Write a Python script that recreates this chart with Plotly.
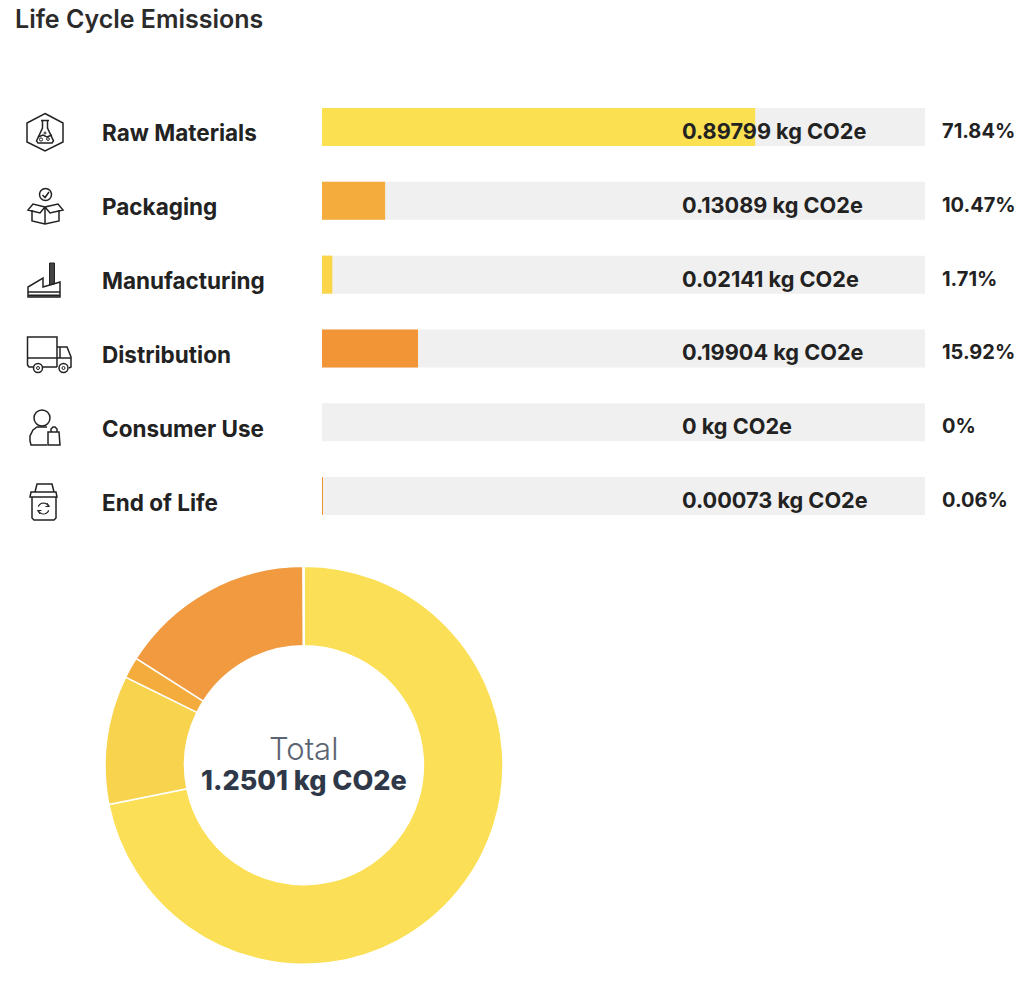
import math
import plotly.graph_objects as go

categories = ["Raw Materials", "Packaging", "Manufacturing", "Distribution", "Consumer Use", "End of Life"]
emissions = [0.89799, 0.13089, 0.02141, 0.19904, 0, 0.00073]
percents = [71.84, 10.47, 1.71, 15.92, 0, 0.06]
percent_labels = ["71.84%", "10.47%", "1.71%", "15.92%", "0%", "0.06%"]
bar_colors = ["#FBE052", "#F4AD3D", "#FAD449", "#F19537", "#F19537", "#F19537"]
pie_colors = ["#FBE057", "#F8D44E", "#F4AD3D", "#F19A40", "#F19A40", "#F19537"]
track = [100] * 6
total_label = "1.2501 kg CO2e"
title = "Life Cycle Emissions"

W, H, OFF = 1024, 983, 0
FONT = "Inter"
DARK = "#222222"


def px(x):
    return (x - OFF) / W


def py(y):
    return 1 - (y - OFF) / H


fig = go.Figure()
fig.add_trace(go.Bar(y=categories, x=track, orientation="h", marker=dict(color="#F0F0F0", line_width=0),
                     hoverinfo="skip", showlegend=False))
fig.add_trace(go.Bar(y=categories, x=percents, orientation="h", marker=dict(color=bar_colors, line_width=0),
                     showlegend=False))
fig.add_trace(go.Pie(labels=categories, values=emissions, hole=0.6, sort=False, direction="clockwise",
                     rotation=0, textinfo="none", showlegend=False,
                     marker=dict(colors=pie_colors, line=dict(color="white", width=1.5)),
                     domain=dict(x=[px(105), px(503)], y=[py(964.5), py(566)])))


def text(x, y, s, size, color=DARK, weight=700, anchor="left"):
    fig.add_annotation(xref="paper", yref="paper", x=px(x), y=py(y), text=s, showarrow=False,
                       xanchor=anchor, yanchor="middle", borderpad=0,
                       font=dict(family=FONT, size=size, color=color, weight=weight))


text(14, 19, title, 25, "#2b2b2b", 600)
rows = [127 + 73.8 * i for i in range(6)]
for i, c in enumerate(categories):
    text(101, rows[i] + 6, c, 22.5, DARK, 700)
    text(681, rows[i] + 4, f"{emissions[i]:g}" + " kg CO2e", 21.7, DARK, 700)
    text(941, rows[i] + 4, percent_labels[i], 20, DARK, 700)
text(303.5, 748, "Total", 31, "#5B6472", 300, "center")
text(303.5, 780, total_label, 27, "#2F3848", 800, "center")


# decorative icons, in page pixels
def path(points, close=False, width=1.5, fill=None):
    d = ""
    for i, (x, y) in enumerate(points):
        d += ("M" if i == 0 else "L") + f"{px(x):.5f},{py(y):.5f} "
    if close:
        d += "Z"
    fig.add_shape(type="path", xref="paper", yref="paper", path=d,
                  line=dict(color=DARK, width=width), fillcolor=fill)


def circle(cx, cy, r, width=1.5, fill=None):
    fig.add_shape(type="circle", xref="paper", yref="paper", x0=px(cx - r), x1=px(cx + r),
                  y0=py(cy + r), y1=py(cy - r), line=dict(color=DARK, width=width), fillcolor=fill)


def arc(cx, cy, r, a0, a1, width=1.2):
    steps = range(9)
    path([(cx + r * math.cos(math.radians(a0 + (a1 - a0) * s / 8)),
           cy + r * math.sin(math.radians(a0 + (a1 - a0) * s / 8))) for s in steps], False, width)


# flask
path([(45, 113.5), (63, 123), (63, 142), (45, 151), (27, 142), (27, 123)], True)
path([(41, 120.5), (49, 120.5)])
path([(42.5, 120.5), (42.5, 128), (36.5, 141), (38, 143), (52, 143), (53.5, 141), (47.5, 128), (47.5, 120.5)])
path([(38, 137), (43, 135), (47, 137), (52, 135)])
circle(41, 139.5, 1.6, 1)
circle(48, 139, 1.4, 1)
circle(45, 133, 1, 1)
# box
circle(45.5, 194.5, 6)
path([(42.5, 195), (45, 197.5), (49, 192)])
path([(32, 210), (32, 221), (45, 224), (59, 221), (59, 210)])
path([(45, 207), (45, 224)])
path([(45, 207), (33, 204), (28, 210), (40, 213), (45, 207), (58, 204), (63, 210), (50, 213), (45, 207)])
# factory
path([(49.5, 263), (54.5, 263), (54.5, 284), (49.5, 285)], True, 1, "#444444")
path([(28, 297), (28, 287), (43, 278), (43, 287), (60, 282), (60, 297)], True)
path([(28, 292), (60, 292)])
path([(28, 295.5), (60, 295.5)], False, 1.8)
# truck
path([(57, 367), (29, 367), (27.5, 365), (27.5, 337), (57, 337), (57, 367)])
path([(27.5, 358), (71, 358)])
path([(57, 347), (67, 347), (71, 357), (71, 367), (69, 368)])
path([(60, 347), (60, 358)])
circle(38, 368, 4.5, 1.5, "white")
circle(38, 368, 1.5, 1)
circle(63.5, 368, 4.5, 1.5, "white")
circle(63.5, 368, 1.5, 1)
# person
circle(42, 418, 8)
path([(47, 445), (31, 445), (30, 441), (30, 436), (33, 430), (37, 427), (47, 427)])
path([(48, 445), (48, 432), (59, 432), (60, 445)], True)
path([(51, 432), (51, 429), (53, 427), (55, 427), (57, 429), (57, 432)])
# bin
path([(35, 492), (37, 484), (52, 484), (54, 492)])
path([(30, 497), (31, 492), (56, 492), (57, 497)], True)
path([(32, 497), (32, 518), (34, 520), (54, 520), (56, 518), (56, 497)])
arc(43.5, 508.5, 5.5, 200, 340)
arc(43.5, 508.5, 5.5, 20, 160)
path([(47, 503), (49.5, 506.5), (45.5, 506.5)], False, 1)
path([(40, 514), (37.5, 510.5), (41.5, 510.5)], False, 1)

fig.update_layout(
    width=W, height=H, autosize=False, margin=dict(l=0, r=0, t=0, b=0),
    paper_bgcolor="white", plot_bgcolor="white", barmode="overlay", bargap=1 - 38 / 73.8,
    xaxis=dict(domain=[px(322), px(925)], range=[0, 100], visible=False, fixedrange=True),
    yaxis=dict(domain=[py(533), py(90.1)], categoryorder="array", categoryarray=categories[::-1],
               visible=False, fixedrange=True),
)
fig.write_html("out.html", config={"displayModeBar": False},
               post_script="document.body.style.margin='0';document.body.style.overflow='hidden';")
